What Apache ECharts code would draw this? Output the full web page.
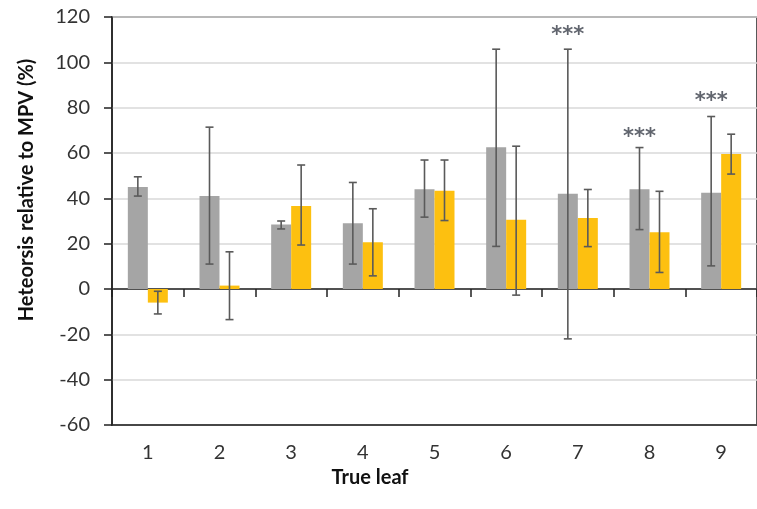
<!DOCTYPE html>
<html>
<head>
<meta charset="utf-8">
<script src="https://cdn.jsdelivr.net/npm/echarts@6/dist/echarts.min.js"></script>
<style>html,body{margin:0;padding:0;background:#fff}#c{width:757px;height:509px}</style>
</head>
<body>
<div id="c"></div>
<script>
var categories = ['1','2','3','4','5','6','7','8','9'];
var grayVals  = [45, 41, 28.5, 29, 44, 62.5, 42, 44, 42.5];
var grayLow   = [41, 11, 26.5, 11, 31.7, 18.8, -22, 26.2, 10.2];
var grayHigh  = [49.5, 71.4, 30, 47, 56.9, 105.8, 105.8, 62.4, 76.1];
var yellowVals = [-6, 1.5, 36.6, 20.6, 43.4, 30.5, 31.3, 25, 59.6];
var yellowLow  = [-11, -13.5, 19.4, 5.8, 30.2, -2.7, 18.7, 7.3, 50.7];
var yellowHigh = [-1, 16.4, 54.7, 35.4, 56.9, 63, 43.9, 43.1, 68.3];
var starCats = ['7','8','9'];
var starVals = [114, 69, 85];
var yTicks = {min: -60, max: 120, interval: 20};

var FONT = 'Lato';
var chart = echarts.init(document.getElementById('c'), null, {renderer: 'canvas'});

function errSeries(low, high, offset) {
  var data = low.map(function (l, i) { return [i, l, high[i]]; });
  return {
    type: 'custom',
    xAxisIndex: 0,
    z: 5,
    silent: true,
    data: data,
    encode: {x: 0, y: [1, 2]},
    renderItem: function (params, api) {
      var i = api.value(0);
      var p1 = api.coord([i, api.value(1)]);
      var p2 = api.coord([i, api.value(2)]);
      var x = p1[0] + offset;
      var cw = 4;
      var st = {stroke: '#5a5a5a', lineWidth: 1.6};
      return {
        type: 'group',
        children: [
          {type: 'line', shape: {x1: x, y1: p1[1], x2: x, y2: p2[1]}, style: st},
          {type: 'line', shape: {x1: x - cw, y1: p1[1], x2: x + cw, y2: p1[1]}, style: st},
          {type: 'line', shape: {x1: x - cw, y1: p2[1], x2: x + cw, y2: p2[1]}, style: st}
        ]
      };
    }
  };
}

var option = {
  animation: false,
  backgroundColor: '#fff',
  grid: {left: 112, top: 17, width: 655, height: 408, show: true, borderColor: '#222', borderWidth: 1.5, backgroundColor: 'transparent'},
  xAxis: [
    {
      type: 'category', data: categories, position: 'bottom',
      axisLine: {onZero: false, lineStyle: {color: '#222', width: 1.5}},
      axisTick: {show: false},
      axisLabel: {color: '#333', fontFamily: FONT, fontSize: 20, margin: 18},
      splitLine: {show: false}
    },
    {
      type: 'category', data: categories, position: 'bottom',
      axisLine: {onZero: true, lineStyle: {color: '#222', width: 1.5}},
      axisTick: {show: true, length: 8, lineStyle: {color: '#222', width: 1.5}},
      axisLabel: {show: false},
      splitLine: {show: false}
    }
  ],
  yAxis: {
    type: 'value', min: yTicks.min, max: yTicks.max, interval: yTicks.interval,
    axisLine: {show: true, lineStyle: {color: '#222', width: 1.5}},
    axisTick: {show: true, length: 8, lineStyle: {color: '#222', width: 1.5}},
    axisLabel: {color: '#333', fontFamily: FONT, fontSize: 20, margin: 22},
    splitLine: {show: true, lineStyle: {color: '#d9d9d9', width: 1.5}}
  },
  graphic: [
    {type: 'text', x: 370, y: 478, style: {text: 'True leaf', font: 'bold 20px ' + FONT, fill: '#111', align: 'center', verticalAlign: 'middle'}},
    {type: 'text', x: 27, y: 190, rotation: Math.PI / 2, style: {text: 'Heteorsis relative to MPV (%)', font: 'bold 20px ' + FONT, fill: '#111', align: 'center', verticalAlign: 'middle'}}
  ],
  series: [
    {type: 'bar', name: 'gray', data: grayVals, barWidth: 20, barGap: '0%', itemStyle: {color: '#a5a5a5'}, z: 2},
    {type: 'bar', name: 'yellow', data: yellowVals, barWidth: 20, barGap: '0%', itemStyle: {color: '#fdc010'}, z: 2},
    errSeries(grayLow, grayHigh, -10),
    errSeries(yellowLow, yellowHigh, 10),
    {
      type: 'scatter', symbolSize: 0, silent: true, z: 6,
      data: starCats.map(function (c, i) { return [c, starVals[i]]; }),
      label: {show: true, position: 'inside', formatter: '***', offset: [-10, 5], color: '#3a3f4a', fontFamily: 'DejaVu Sans', fontSize: 21, fontWeight: 'bold'}
    }
  ]
};
chart.setOption(option);
</script>
</body>
</html>
